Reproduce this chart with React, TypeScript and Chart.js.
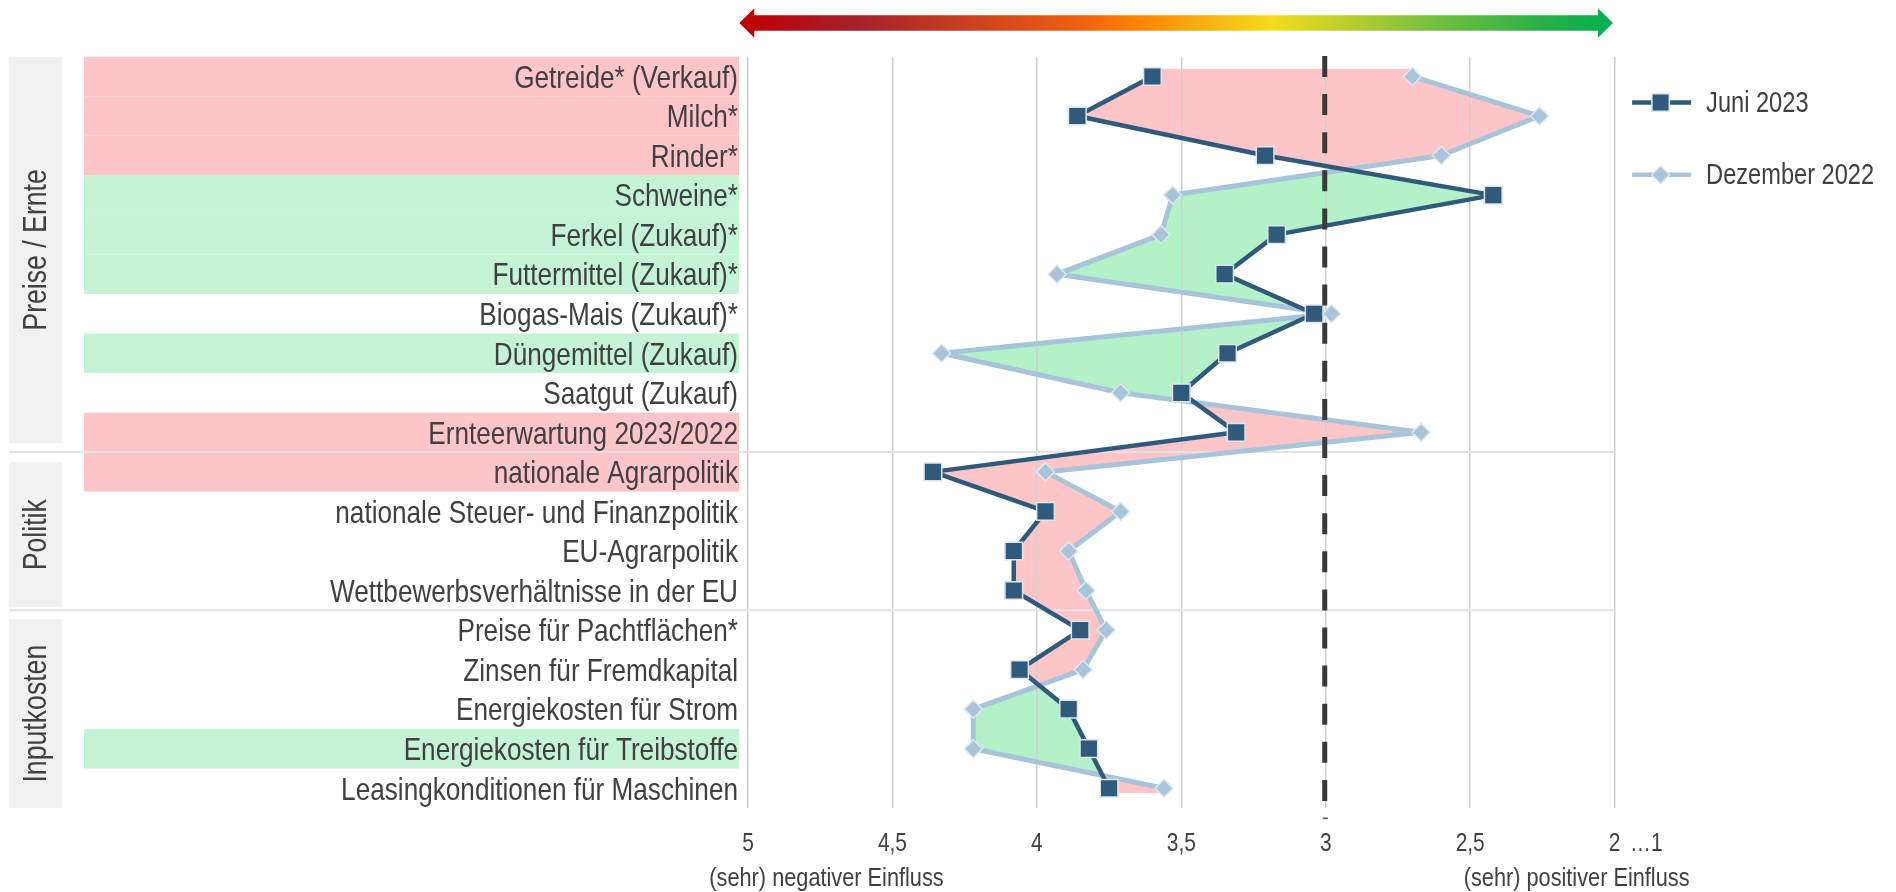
import React, { useEffect, useRef } from 'react';
import { Chart, registerables } from 'chart.js';

Chart.register(...registerables);

// ---------- data ----------
const categories: string[] = [
  'Getreide* (Verkauf)',
  'Milch*',
  'Rinder*',
  'Schweine*',
  'Ferkel (Zukauf)*',
  'Futtermittel (Zukauf)*',
  'Biogas-Mais (Zukauf)*',
  'Düngemittel (Zukauf)',
  'Saatgut (Zukauf)',
  'Ernteerwartung 2023/2022',
  'nationale Agrarpolitik',
  'nationale Steuer- und Finanzpolitik',
  'EU-Agrarpolitik',
  'Wettbewerbsverhältnisse in der EU',
  'Preise für Pachtflächen*',
  'Zinsen für Fremdkapital',
  'Energiekosten für Strom',
  'Energiekosten für Treibstoffe',
  'Leasingkonditionen für Maschinen',
];

const juni2023: number[] = [
  3.6, 3.86, 3.21, 2.42, 3.17, 3.35, 3.04, 3.34, 3.5, 3.31,
  4.36, 3.97, 4.08, 4.08, 3.85, 4.06, 3.89, 3.82, 3.75,
];

const dezember2022: number[] = [
  2.7, 2.26, 2.6, 3.53, 3.57, 3.93, 2.98, 4.33, 3.71, 2.67,
  3.97, 3.71, 3.89, 3.83, 3.76, 3.84, 4.22, 4.22, 3.56,
];

// 'neg' = significant worsening, 'pos' = significant improvement, '' = none
const rowHighlight: string[] = [
  'neg', 'neg', 'neg', 'pos', 'pos', 'pos', '', 'pos', '', 'neg',
  'neg', '', '', '', '', '', '', 'pos', '',
];

const seriesNames: string[] = ['Juni 2023', 'Dezember 2022'];

const xTickValues: number[] = [5, 4.5, 4, 3.5, 3, 2.5, 2];
const xTickExtra = '…1';
const neutralValue = 3;
const axisTitleNegative = '(sehr) negativer Einfluss';
const axisTitlePositive = '(sehr) positiver Einfluss';

const groupLabels: string[] = ['Preise / Ernte', 'Politik', 'Inputkosten'];
const groupFirst: number[] = [0, 10, 14];
const groupLast: number[] = [9, 13, 18];

// ---------- styles ----------
const FONT = "'Liberation Sans', Arial, sans-serif";
const K = 0.82; // horizontal condensing (Arial Narrow look)
const TEXT = '#404040';
const PINK = '#fec5c8';
const GREEN_LABEL = '#c4f4d5';
const GREEN_FILL = '#b3f1c8';
const DARK = '#2f5a7c';
const LIGHT = '#a7c4da';
const GROUP_INSET_TOP = [0, 10, 9];
const GROUP_INSET_BOTTOM = [9, 3, 0];

function narrowText(ctx: CanvasRenderingContext2D, text: string, x: number, y: number, align: CanvasTextAlign) {
  ctx.save();
  ctx.translate(x, y);
  ctx.scale(K, 1);
  ctx.textAlign = align;
  ctx.fillText(text, 0, 0);
  ctx.restore();
}

// make the library's own tick labels render condensed
function narrowScale(scale: any, dy: number) {
  if (!scale || scale.__narrow) return;
  scale.__narrow = true;
  const origDraw = scale.drawLabels;
  const origItems = scale.getLabelItems;
  if (typeof origDraw !== 'function' || typeof origItems !== 'function') return;
  scale._computeLabelArea = () => undefined;
  scale.getLabelItems = function (area: any) {
    return origItems.call(this, area).map((it: any) => {
      const t = it.options && it.options.translation;
      if (!t) return it;
      return { ...it, options: { ...it.options, translation: [t[0] / K, t[1] + dy] } };
    });
  };
  scale.drawLabels = function (area: any) {
    const ctx = this.ctx;
    ctx.save();
    ctx.scale(K, 1);
    origDraw.call(this, area);
    ctx.restore();
  };
}

function drawMarker(ctx: CanvasRenderingContext2D, style: string, x: number, y: number, fill: string, border: string) {
  ctx.save();
  ctx.beginPath();
  if (style === 'rect') {
    const s = 8.7;
    ctx.rect(x - s, y - s, 2 * s, 2 * s);
  } else {
    const r = 9;
    ctx.moveTo(x - r, y);
    ctx.lineTo(x, y - r);
    ctx.lineTo(x + r, y);
    ctx.lineTo(x, y + r);
    ctx.closePath();
  }
  ctx.fillStyle = fill;
  ctx.fill();
  ctx.lineWidth = 1.5;
  ctx.strokeStyle = border;
  ctx.stroke();
  ctx.restore();
}

const decorPlugin = {
  id: 'decor',
  beforeDraw(chart: any) {
    const { ctx, chartArea, scales } = chart;
    const y = scales.y;
    narrowScale(scales.x, 0);
    narrowScale(scales.y, 2.5);
    const band = (y.bottom - y.top) / categories.length;
    ctx.save();

    // label row backgrounds
    categories.forEach((_, i) => {
      const h = rowHighlight[i];
      if (!h) return;
      const cy = y.getPixelForValue(i);
      ctx.fillStyle = h === 'neg' ? PINK : GREEN_LABEL;
      ctx.fillRect(76, cy - band / 2, chartArea.left - 9 - 76, band);
    });

    // group boxes with rotated labels
    groupLabels.forEach((g, k) => {
      const top = y.getPixelForValue(groupFirst[k]) - band / 2 + GROUP_INSET_TOP[k];
      const bottom = y.getPixelForValue(groupLast[k]) + band / 2 - GROUP_INSET_BOTTOM[k];
      ctx.fillStyle = '#f1f1f1';
      ctx.fillRect(1, top, 53, bottom - top);
      ctx.save();
      ctx.translate(29.5, (top + bottom) / 2);
      ctx.rotate(-Math.PI / 2);
      ctx.fillStyle = TEXT;
      ctx.font = `32.5px ${FONT}`;
      ctx.textBaseline = 'middle';
      narrowText(ctx, g, 0, 0, 'center');
      ctx.restore();
    });

    // fills between the two series
    const pJ = chart.getDatasetMeta(0).data.map((p: any) => ({ x: p.x, y: p.y }));
    const pD = chart.getDatasetMeta(1).data.map((p: any) => ({ x: p.x, y: p.y }));
    if (pJ.length && pD.length) {
      const ext = (pts: any[]) => [
        { x: pts[0].x, y: pts[0].y - 8 },
        ...pts,
        { x: pts[pts.length - 1].x, y: pts[pts.length - 1].y + 5 },
      ];
      const J = ext(pJ);
      const D = ext(pD);
      const poly = (pts: any[], edgeX: number) => {
        ctx.beginPath();
        ctx.moveTo(pts[0].x, pts[0].y);
        for (let i = 1; i < pts.length; i++) ctx.lineTo(pts[i].x, pts[i].y);
        ctx.lineTo(edgeX, pts[pts.length - 1].y);
        ctx.lineTo(edgeX, pts[0].y);
        ctx.closePath();
      };
      const farR = chartArea.right + 100;
      const farL = chartArea.left - 100;
      ctx.save();
      ctx.beginPath();
      ctx.rect(chartArea.left, chartArea.top, chartArea.right - chartArea.left, chartArea.bottom - chartArea.top);
      ctx.clip();
      // pink: June more negative (left of December)
      ctx.save();
      poly(J, farR);
      ctx.clip();
      poly(D, farL);
      ctx.fillStyle = PINK;
      ctx.fill();
      ctx.restore();
      // green: June more positive
      ctx.save();
      poly(D, farR);
      ctx.clip();
      poly(J, farL);
      ctx.fillStyle = GREEN_FILL;
      ctx.fill();
      ctx.restore();
      ctx.restore();
    }

    // gradient arrow on top
    const L = chartArea.left - 8.7;
    const R = chartArea.right - 1.6;
    const cy = 15;
    const sh = 7.8;
    const hh = 14.7;
    const hl = 15;
    const grad = ctx.createLinearGradient(L, 0, R, 0);
    grad.addColorStop(0, '#c00000');
    grad.addColorStop(0.13, '#a51f2b');
    grad.addColorStop(0.26, '#c8401f');
    grad.addColorStop(0.39, '#f06010');
    grad.addColorStop(0.45, '#ff8000');
    grad.addColorStop(0.53, '#f8b010');
    grad.addColorStop(0.61, '#f3dc1e');
    grad.addColorStop(0.71, '#b0cc30');
    grad.addColorStop(0.79, '#78c040');
    grad.addColorStop(0.92, '#28b048');
    grad.addColorStop(1, '#00b050');
    ctx.beginPath();
    ctx.moveTo(L, cy);
    ctx.lineTo(L + hl, cy - hh);
    ctx.lineTo(L + hl, cy - sh);
    ctx.lineTo(R - hl, cy - sh);
    ctx.lineTo(R - hl, cy - hh);
    ctx.lineTo(R, cy);
    ctx.lineTo(R - hl, cy + hh);
    ctx.lineTo(R - hl, cy + sh);
    ctx.lineTo(L + hl, cy + sh);
    ctx.lineTo(L + hl, cy + hh);
    ctx.closePath();
    ctx.fillStyle = grad;
    ctx.fill();

    ctx.restore();
  },
  beforeDatasetsDraw(chart: any) {
    const { ctx, chartArea, scales } = chart;
    const y = scales.y;
    const band = (y.bottom - y.top) / categories.length;
    ctx.save();
    ctx.strokeStyle = '#e3e3e3';
    ctx.lineWidth = 2;
    for (let k = 1; k < groupFirst.length; k++) {
      const yy = y.getPixelForValue(groupFirst[k]) - band / 2;
      ctx.beginPath();
      ctx.moveTo(1, yy);
      ctx.lineTo(chartArea.right, yy);
      ctx.stroke();
    }
    ctx.restore();
  },
  afterDatasetsDraw(chart: any) {
    const { ctx, chartArea, scales } = chart;
    const px = scales.x.getPixelForValue(neutralValue);
    ctx.save();
    ctx.strokeStyle = '#3b3b3b';
    ctx.lineWidth = 5;
    ctx.setLineDash([21, 17.1]);
    ctx.beginPath();
    ctx.moveTo(px - 1, chartArea.top - 0.7);
    ctx.lineTo(px - 1, chartArea.bottom);
    ctx.stroke();
    ctx.setLineDash([]);
    ctx.fillStyle = '#555555';
    ctx.fillRect(px - 3, chartArea.bottom + 9.5, 5, 1.6);
    ctx.restore();
  },
  afterDraw(chart: any) {
    const { ctx, chartArea, scales } = chart;
    const x = scales.x;
    ctx.save();
    ctx.fillStyle = TEXT;
    ctx.textBaseline = 'middle';

    // extra tick label "…1"
    ctx.font = `25.5px ${FONT}`;
    narrowText(ctx, xTickExtra, x.getPixelForValue(2) + 15.5, chartArea.bottom + 36, 'left');

    // axis end titles
    ctx.font = `26.5px ${FONT}`;
    narrowText(ctx, axisTitleNegative, chartArea.left + 78.5, chartArea.bottom + 70.5, 'center');
    narrowText(ctx, axisTitlePositive, chartArea.right - 38, chartArea.bottom + 70.5, 'center');

    // legend
    const lx = chartArea.right + 17.5;
    chart.data.datasets.forEach((ds: any, i: number) => {
      const cy = 94.5 + i * 72.3;
      ctx.strokeStyle = ds.borderColor;
      ctx.lineWidth = 4.5;
      ctx.beginPath();
      ctx.moveTo(lx, cy);
      ctx.lineTo(lx + 59, cy);
      ctx.stroke();
      drawMarker(ctx, ds.pointStyle, lx + 28.5, cy, ds.pointBackgroundColor, ds.pointBorderColor);
      ctx.fillStyle = TEXT;
      ctx.font = `28.8px ${FONT}`;
      narrowText(ctx, ds.label, lx + 74, cy + 1.5, 'left');
    });
    ctx.restore();
  },
};

export default function App() {
  const ref = useRef<HTMLCanvasElement | null>(null);

  useEffect(() => {
    if (!ref.current) return;
    const chart = new Chart(ref.current, {
      type: 'line',
      data: {
        labels: categories,
        datasets: [
          {
            label: seriesNames[0],
            data: juni2023,
            borderColor: DARK,
            borderWidth: 4.5,
            borderJoinStyle: 'round',
            pointStyle: 'rect',
            pointRadius: 12.5,
            pointBackgroundColor: DARK,
            pointBorderColor: '#dde5ec',
            pointBorderWidth: 1.5,
            tension: 0,
            fill: false,
          } as any,
          {
            label: seriesNames[1],
            data: dezember2022,
            borderColor: LIGHT,
            borderWidth: 5,
            borderJoinStyle: 'round',
            pointStyle: 'rectRot',
            pointRadius: 9,
            pointBackgroundColor: LIGHT,
            pointBorderColor: '#dde7ef',
            pointBorderWidth: 1.5,
            tension: 0,
            fill: false,
          } as any,
        ],
      },
      options: {
        indexAxis: 'y',
        responsive: false,
        animation: false,
        events: [],
        devicePixelRatio: 1,
        layout: { padding: { left: 0, right: 273.4, top: 48.7, bottom: 0 } },
        plugins: {
          legend: { display: false },
          tooltip: { enabled: false },
          title: { display: false },
        },
        scales: {
          x: {
            type: 'linear',
            position: 'bottom',
            reverse: true,
            min: 2,
            max: 5,
            afterBuildTicks: (scale: any) => {
              scale.ticks = [...xTickValues].sort((a, b) => a - b).map((v) => ({ value: v }));
            },
            afterFit: (scale: any) => {
              scale.height = 84;
            },
            grid: { color: '#cfcfcf', lineWidth: 1.5, drawTicks: false },
            border: { display: false },
            ticks: {
              autoSkip: false,
              maxRotation: 0,
              padding: 21,
              color: TEXT,
              font: { family: FONT, size: 25.5, lineHeight: 1.2 },
              callback: (v: any) => String(v).replace('.', ','),
            },
          },
          y: {
            type: 'category',
            position: 'left',
            offset: true,
            afterFit: (scale: any) => {
              scale.width = 740;
            },
            grid: { display: false, drawTicks: false },
            border: { display: false },
            ticks: {
              autoSkip: false,
              padding: 10,
              color: TEXT,
              font: { family: FONT, size: 31.9, lineHeight: 1.2 },
            },
          },
        },
      } as any,
      plugins: [decorPlugin],
    });
    return () => chart.destroy();
  }, []);

  return (
    <div style={{ position: 'absolute', left: 8, top: 8, width: 1880, height: 884 }}>
      <canvas ref={ref} width={1880} height={884} style={{ display: 'block' }} />
    </div>
  );
}
